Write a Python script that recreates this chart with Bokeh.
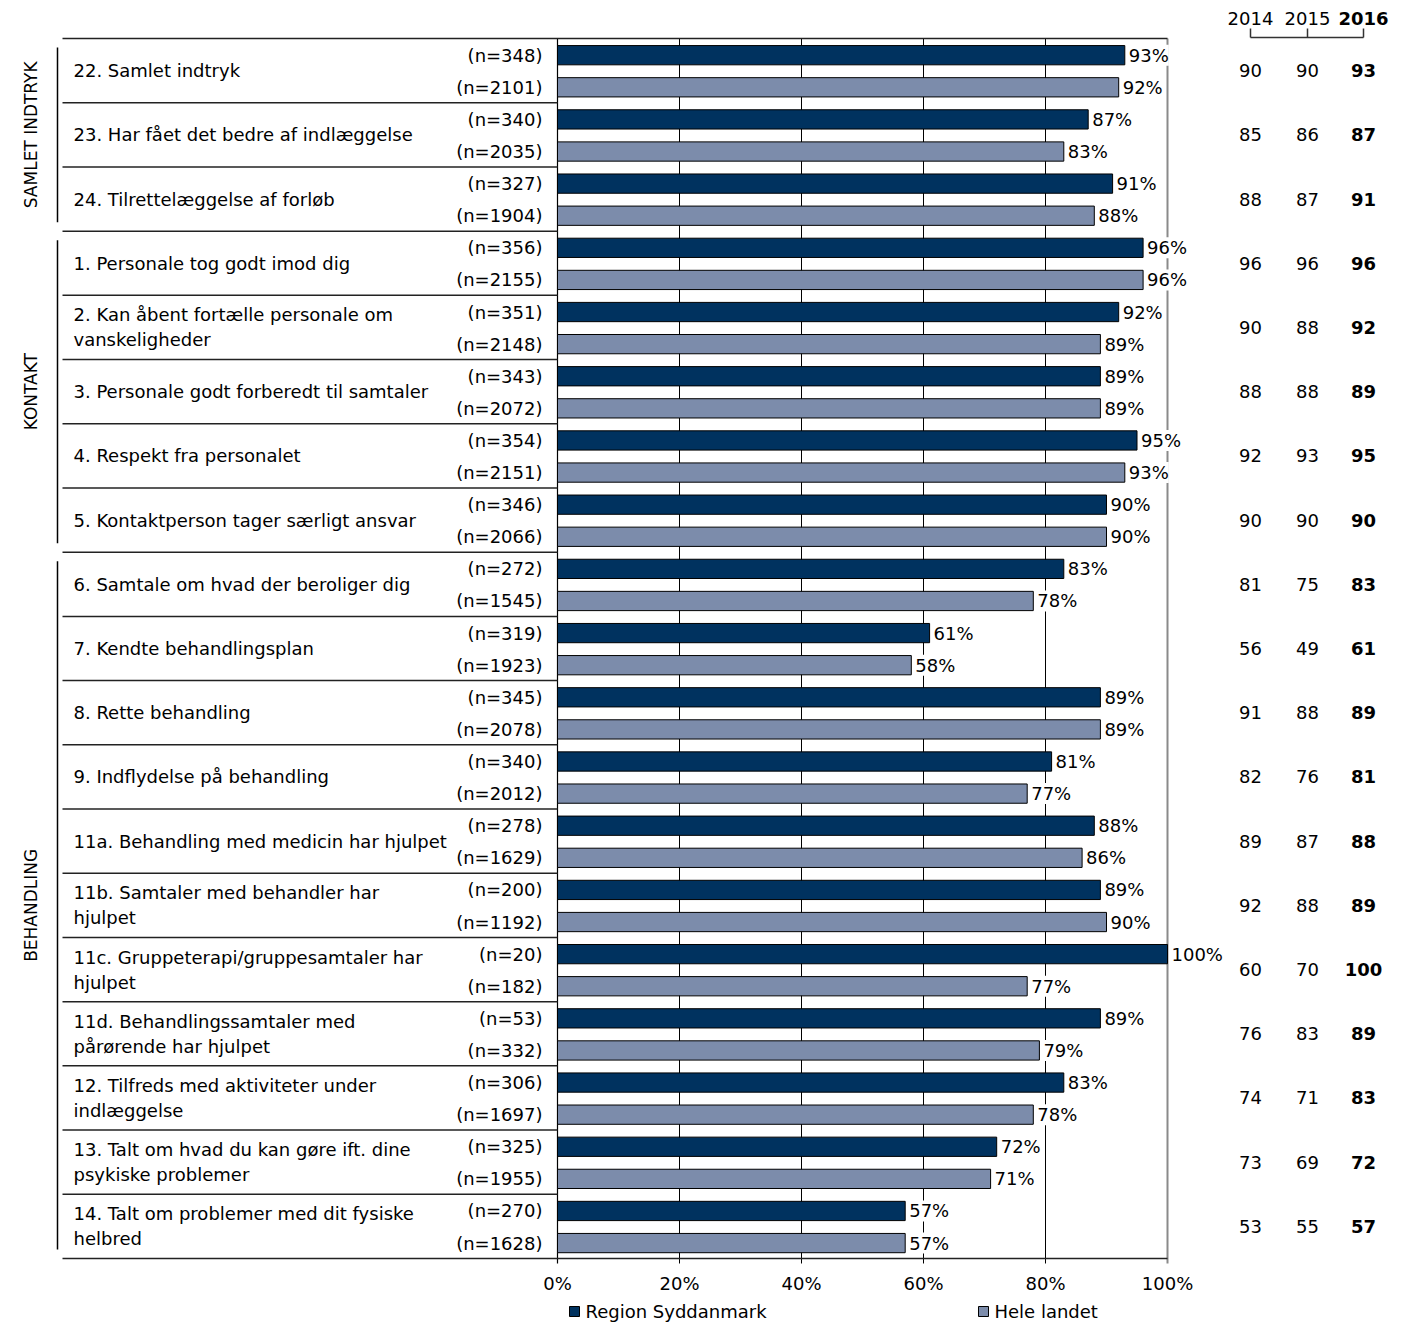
import math
from bokeh.plotting import figure
from bokeh.models import Range1d
from bokeh.core.properties import value
from bokeh.embed import file_html
from bokeh.resources import INLINE

# ---------------- data ----------------
questions = [
    "22. Samlet indtryk",
    "23. Har fået det bedre af indlæggelse",
    "24. Tilrettelæggelse af forløb",
    "1. Personale tog godt imod dig",
    "2. Kan åbent fortælle personale om\nvanskeligheder",
    "3. Personale godt forberedt til samtaler",
    "4. Respekt fra personalet",
    "5. Kontaktperson tager særligt ansvar",
    "6. Samtale om hvad der beroliger dig",
    "7. Kendte behandlingsplan",
    "8. Rette behandling",
    "9. Indflydelse på behandling",
    "11a. Behandling med medicin har hjulpet",
    "11b. Samtaler med behandler har\nhjulpet",
    "11c. Gruppeterapi/gruppesamtaler har\nhjulpet",
    "11d. Behandlingssamtaler med\npårørende har hjulpet",
    "12. Tilfreds med aktiviteter under\nindlæggelse",
    "13. Talt om hvad du kan gøre ift. dine\npsykiske problemer",
    "14. Talt om problemer med dit fysiske\nhelbred",
]
n_region = [348, 340, 327, 356, 351, 343, 354, 346, 272, 319, 345, 340, 278, 200, 20, 53, 306, 325, 270]
n_all = [2101, 2035, 1904, 2155, 2148, 2072, 2151, 2066, 1545, 1923, 2078, 2012, 1629, 1192, 182, 332, 1697, 1955, 1628]
pct_region = [93, 87, 91, 96, 92, 89, 95, 90, 83, 61, 89, 81, 88, 89, 100, 89, 83, 72, 57]
pct_all = [92, 83, 88, 96, 89, 89, 93, 90, 78, 58, 89, 77, 86, 90, 77, 79, 78, 71, 57]
hist_2014 = [90, 85, 88, 96, 90, 88, 92, 90, 81, 56, 91, 82, 89, 92, 60, 76, 74, 73, 53]
hist_2015 = [90, 86, 87, 96, 88, 88, 93, 90, 75, 49, 88, 76, 87, 88, 70, 83, 71, 69, 55]
hist_2016 = [93, 87, 91, 96, 92, 89, 95, 90, 83, 61, 89, 81, 88, 89, 100, 89, 83, 72, 57]
groups = ["SAMLET INDTRYK", "KONTAKT", "BEHANDLING"]
group_sizes = [3, 5, 11]
x_ticks = [0, 20, 40, 60, 80, 100]
series_names = ["Region Syddanmark", "Hele landet"]
year_labels = ["2014", "2015", "2016"]

# ---------------- layout helpers ----------------
W, H = 1404, 1322
MARGIN = 0
PX = 6.1          # pixels per percent
X_ZERO = 557      # page pixel of 0%
ROW = 64.21       # pixels per question row
Y_TOP = 38        # page pixel of first row top


def xd(px):
    return (px - X_ZERO) / PX


def yd(py):
    return (py - Y_TOP) / ROW


FONT = value("DejaVu Sans")
FS = "18px"
DARK = "#00325F"
LIGHT = "#7C8CAB"

p = figure(width=W, height=H, output_backend="svg", toolbar_location=None,
           x_axis_type=None, y_axis_type=None, min_border=0,
           x_range=Range1d(xd(MARGIN), xd(MARGIN + W)),
           y_range=Range1d(yd(MARGIN + H), yd(MARGIN)))
p.outline_line_color = None
p.grid.visible = False
p.background_fill_color = "white"
p.border_fill_color = "white"

nq = len(questions)
rows = list(range(nq))
y_dark = [i + 0.26 for i in rows]
y_light = [i + 0.76 for i in rows]
y_mid = [i + 0.5 for i in rows]

# gridlines
tick_bottom = nq + 5 / ROW
inner = [t for t in x_ticks if 0 < t < 100]
p.segment(x0=inner, y0=[0] * len(inner), x1=inner, y1=[tick_bottom] * len(inner),
          line_color="black", line_width=1)
p.segment(x0=[100], y0=[0], x1=[100], y1=[tick_bottom], line_color="#8a8a8a", line_width=2)
p.segment(x0=[0], y0=[0], x1=[0], y1=[tick_bottom], line_color="black", line_width=1.2)

# top & bottom lines across table + plot
p.segment(x0=[xd(62), xd(62)], y0=[0, nq], x1=[100, 100], y1=[0, nq],
          line_color="#222222", line_width=1.5)
# row separators in the table
seps = list(range(1, nq))
p.segment(x0=[xd(62)] * len(seps), y0=seps, x1=[0] * len(seps), y1=seps,
          line_color="#222222", line_width=1.5)

# bars
p.hbar(y=y_dark, left=0, right=pct_region, height=0.30, fill_color=DARK,
       line_color="black", line_width=1)
p.hbar(y=y_light, left=0, right=pct_all, height=0.30, fill_color=LIGHT,
       line_color="black", line_width=1)

# value labels (white background hides gridlines behind them)
p.text(x=[v + 4 / PX for v in pct_region], y=y_dark, text=[f"{v}%" for v in pct_region],
       text_font=FONT, text_font_size=FS, text_baseline="middle", text_align="left", text_color="black",
       background_fill_color="white")
p.text(x=[v + 4 / PX for v in pct_all], y=y_light, text=[f"{v}%" for v in pct_all],
       text_font=FONT, text_font_size=FS, text_baseline="middle", text_align="left", text_color="black",
       background_fill_color="white")

# n labels
p.text(x=[xd(542)] * nq, y=y_dark, text=[f"(n={v})" for v in n_region],
       text_font=FONT, text_font_size=FS, text_baseline="middle", text_align="right", text_color="black")
p.text(x=[xd(542)] * nq, y=y_light, text=[f"(n={v})" for v in n_all],
       text_font=FONT, text_font_size=FS, text_baseline="middle", text_align="right", text_color="black")

# question labels
qx, qy, qt = [], [], []
off = 12.5 / ROW
for i, q in enumerate(questions):
    parts = q.split("\n")
    if len(parts) == 1:
        qx.append(xd(73)); qy.append(i + 0.5); qt.append(parts[0])
    else:
        qx += [xd(73), xd(73)]
        qy += [i + 0.5 - off, i + 0.5 + off]
        qt += parts
p.text(x=qx, y=qy, text=qt, text_font=FONT, text_font_size="18px", text_baseline="middle",
       text_align="left", text_color="black")

# group labels and lines
start = 0
gx, gy, gt = [], [], []
for g, s in zip(groups, group_sizes):
    top, bot = start, start + s
    p.segment(x0=[xd(57)], y0=[top + 9 / ROW], x1=[xd(57)], y1=[bot - 9 / ROW],
              line_color="black", line_width=1.5)
    gx.append(xd(30)); gy.append((top + bot) / 2); gt.append(g)
    start = bot
p.text(x=gx, y=gy, text=gt, angle=math.pi / 2, text_font=FONT, text_font_size="17px",
       text_baseline="middle", text_align="center", text_color="black")

# x tick labels
p.text(x=x_ticks, y=[yd(1283)] * len(x_ticks), text=[f"{t}%" for t in x_ticks],
       text_font=FONT, text_font_size=FS, text_baseline="middle", text_align="center", text_color="black")

# legend
leg_y = yd(1311)
p.scatter(x=[xd(574), xd(983)], y=[leg_y, leg_y], marker="square", size=10,
          fill_color=[DARK, LIGHT], line_color="black", line_width=1)
p.text(x=[xd(585), xd(994)], y=[leg_y, leg_y], text=series_names,
       text_font=FONT, text_font_size=FS, text_baseline="middle", text_align="left", text_color="black")

# history columns
col_x = [xd(1250), xd(1307), xd(1363)]
for cx, vals, bold in zip(col_x, [hist_2014, hist_2015, hist_2016], [False, False, True]):
    p.text(x=[cx] * nq, y=y_mid, text=[str(v) for v in vals], text_font=FONT, text_font_size=FS,
           text_font_style="bold" if bold else "normal",
           text_baseline="middle", text_align="center", text_color="black")
p.text(x=col_x[:2], y=[yd(18)] * 2, text=year_labels[:2], text_font=FONT, text_font_size=FS,
       text_baseline="middle", text_align="center", text_color="black")
p.text(x=[col_x[2]], y=[yd(18)], text=[year_labels[2]], text_font=FONT, text_font_size=FS,
       text_font_style="bold", text_baseline="middle", text_align="center", text_color="black")
# bracket
p.segment(x0=[col_x[0]], y0=[yd(37)], x1=[col_x[2]], y1=[yd(37)], line_color="#333333", line_width=1.5)
p.segment(x0=col_x, y0=[yd(28)] * 3, x1=col_x, y1=[yd(37)] * 3, line_color="#333333", line_width=1.5)

open("out.html", "w").write(file_html(p, INLINE))
